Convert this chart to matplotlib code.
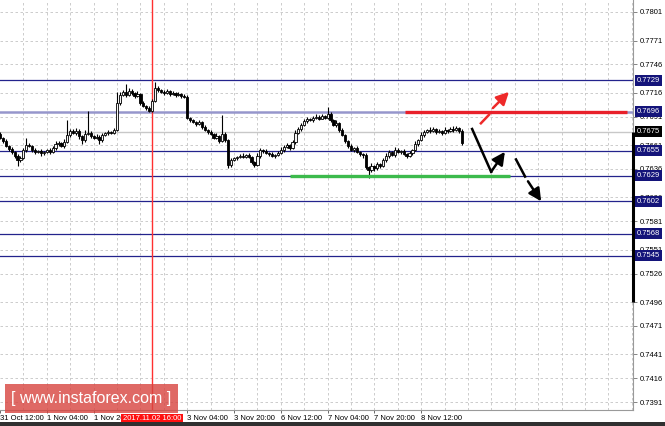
import matplotlib
matplotlib.use("Agg")
import matplotlib.pyplot as plt
import matplotlib.transforms as mtransforms
from matplotlib.patches import Rectangle

# hourly closes, 31 Oct 12:00 .. 8 Nov (one value per bar)
closes = [
    0.7669, 0.7665, 0.7660, 0.7657, 0.7654, 0.7650, 0.7645, 0.7647, 0.7656, 0.7661,
    0.7660, 0.7656, 0.7654, 0.7655, 0.7653, 0.7654, 0.7656, 0.7654, 0.7658, 0.7662,
    0.7663, 0.7660, 0.7664, 0.7672, 0.7676, 0.7674, 0.7676, 0.7671, 0.7666, 0.7673,
    0.7674, 0.7671, 0.7669, 0.7670, 0.7666, 0.7672, 0.7674, 0.7675, 0.7674, 0.7677,
    0.7705, 0.7714, 0.7717, 0.7714, 0.7718, 0.7716, 0.7713, 0.7715, 0.7705, 0.7702,
    0.7700, 0.7697, 0.7707, 0.7721, 0.7719, 0.7717, 0.7716, 0.7718, 0.7715, 0.7716,
    0.7714, 0.7715, 0.7713, 0.7712, 0.7690, 0.7687, 0.7685, 0.7683, 0.7685, 0.7680,
    0.7677, 0.7675, 0.7673, 0.7669, 0.7671, 0.7665, 0.7673, 0.7666, 0.7640, 0.7645,
    0.7647, 0.7649, 0.7650, 0.7649, 0.7651, 0.7649, 0.7643, 0.7640, 0.7650, 0.7656,
    0.7655, 0.7653, 0.7652, 0.7650, 0.7651, 0.7653, 0.7656, 0.7659, 0.7661, 0.7658,
    0.7664, 0.7674, 0.7678, 0.7682, 0.7686, 0.7689, 0.7687, 0.7690, 0.7691, 0.7689,
    0.7692, 0.7690, 0.7694, 0.7687, 0.7682, 0.7684, 0.7677, 0.7672, 0.7665, 0.7660,
    0.7656, 0.7658, 0.7654, 0.7652, 0.7651, 0.7638, 0.7635, 0.7639, 0.7637, 0.7641,
    0.7639, 0.7645, 0.7650, 0.7654, 0.7651, 0.7656, 0.7654, 0.7655, 0.7652, 0.7650,
    0.7653, 0.7656, 0.7662, 0.7666, 0.7672, 0.7675, 0.7677, 0.7676, 0.7678, 0.7675,
    0.7676, 0.7674, 0.7677, 0.7676, 0.7678, 0.7677, 0.7679, 0.7676, 0.7663,
]
first_open = 0.7673
# wick lengths in pips above / below the body
wick_up = [
    2, 1, 2, 1, 2, 1, 2, 3, 2, 8,
    2, 1, 2, 1, 2, 1, 1, 2, 2, 3,
    2, 1, 3, 15, 2, 2, 3, 2, 1, 4,
    23, 2, 1, 3, 2, 2, 1, 2, 1, 2,
    12, 3, 2, 8, 3, 2, 1, 3, 1, 2,
    1, 2, 3, 6, 2, 1, 2, 2, 1, 2,
    1, 2, 1, 2, 2, 1, 2, 1, 2, 1,
    2, 1, 2, 1, 3, 1, 20, 2, 1, 3,
    2, 1, 2, 3, 1, 2, 1, 1, 3, 2,
    1, 2, 1, 2, 1, 2, 3, 2, 2, 1,
    2, 3, 2, 2, 3, 2, 1, 2, 3, 2,
    2, 1, 7, 2, 1, 3, 1, 2, 1, 1,
    2, 1, 2, 1, 1, 2, 1, 3, 1, 2,
    1, 2, 3, 2, 1, 3, 2, 1, 2, 1,
    2, 1, 3, 2, 3, 2, 1, 3, 2, 1,
    2, 1, 3, 1, 2, 3, 2, 1, 2,
]
wick_dn = [
    2, 2, 1, 2, 2, 3, 6, 2, 1, 2,
    1, 2, 2, 1, 3, 2, 1, 2, 1, 2,
    2, 1, 2, 1, 2, 1, 2, 3, 4, 2,
    1, 2, 2, 1, 4, 2, 1, 2, 1, 1,
    1, 2, 1, 2, 1, 2, 2, 1, 2, 1,
    2, 1, 1, 1, 2, 1, 2, 1, 2, 1,
    2, 1, 2, 1, 2, 2, 1, 2, 1, 2,
    1, 2, 1, 2, 1, 2, 1, 2, 3, 2,
    1, 2, 1, 2, 1, 2, 2, 2, 1, 2,
    2, 1, 2, 1, 2, 1, 1, 2, 1, 2,
    1, 2, 1, 2, 1, 2, 1, 2, 1, 2,
    1, 2, 1, 2, 1, 2, 2, 1, 2, 2,
    1, 2, 1, 2, 3, 2, 9, 2, 3, 2,
    2, 1, 2, 2, 1, 2, 1, 2, 1, 2,
    1, 2, 1, 2, 1, 2, 1, 2, 1, 2,
    1, 2, 1, 2, 1, 2, 1, 2, 2,
]

price_ticks = [0.7801, 0.7771, 0.7746, 0.7716, 0.7691, 0.7661, 0.7636, 0.7606,
               0.7581, 0.7551, 0.7526, 0.7496, 0.7471, 0.7441, 0.7416, 0.7391]
time_tick_bars = [0, 16, 32, 64, 80, 96, 112, 128, 144]
time_tick_labels = ["31 Oct 12:00", "1 Nov 04:00", "1 Nov 20:00",
                    "3 Nov 04:00", "3 Nov 20:00", "6 Nov 12:00", "7 Nov 04:00",
                    "7 Nov 20:00", "8 Nov 12:00"]
navy_levels = [0.7729, 0.7655, 0.7629, 0.7602, 0.7568, 0.7545]
soft_level = 0.7696
bid_level = 0.7675
resist_level = 0.7696
support_level = 0.7629
marker_bar = 52
marker_label = "2017.11.02 16:00"

NAVY = "#23238c"
FONT = "Liberation Sans"

fig = plt.figure(figsize=(6.65, 4.26), dpi=100)
ax = fig.add_axes([0, 16 / 426, 633 / 665, 410 / 426])
ax.set_xlim(0, 216.4)
ax.set_ylim(0.73826, 0.78136)

# grid
for p in price_ticks:
    ax.axhline(p, color="#c4c4c4", lw=0.6, ls=(0, (3, 3)), zorder=0)
for b in range(8, 217, 8):
    ax.axvline(b, color="#c4c4c4", lw=0.6, ls=(0, (3, 3)), zorder=0)

# levels
for lv in navy_levels:
    ax.axhline(lv, color=NAVY, lw=0.9, zorder=1)
ax.axhline(soft_level, color="#9696cc", lw=1.8, zorder=1)
ax.axhline(bid_level, color="#c8c8c8", lw=1.0, zorder=1)
ax.axvline(marker_bar, color="#ff3030", lw=1.0, zorder=1)
ax.plot([138.5, 214.4], [resist_level, resist_level], color="#e8202a", lw=2.4, zorder=4,
        solid_capstyle="butt")
ax.plot([99.1, 174.4], [support_level, support_level], color="#3cba4c", lw=2.4, zorder=4,
        solid_capstyle="butt")

# candles
opens = [first_open] + closes[:-1]
for i, (o, c) in enumerate(zip(opens, closes)):
    hi = max(o, c) + wick_up[i] * 0.0001
    lo = min(o, c) - wick_dn[i] * 0.0001
    ax.vlines(i, lo, hi, color="black", lw=0.8, zorder=2)
    ax.bar(i, c - o, bottom=o, width=0.75, color="#f4f4f4" if c >= o else "black",
           edgecolor="black", linewidth=0.6, zorder=3)

# forecast arrows
def arrow(p0, p1, color):
    ax.annotate("", xy=p1, xytext=p0, zorder=5,
                arrowprops=dict(arrowstyle="-|>,head_length=0.75,head_width=0.38",
                                color=color, lw=1.8, mutation_scale=10, shrinkA=0, shrinkB=0))

ax.plot([164.4, 167.2], [0.7684, 0.7693], color="#ee2a2a", lw=1.8, zorder=5)
arrow((168.5, 0.7700), (174.0, 0.7717), "#ee2a2a")
ax.plot([161.4, 167.9], [0.7678, 0.7633], color="black", lw=1.8, zorder=5)
arrow((167.9, 0.7633), (172.6, 0.7654), "black")
ax.plot([176.4, 179.5], [0.7646, 0.7628], color="black", lw=1.8, zorder=5)
arrow((180.5, 0.7623), (185.0, 0.7602), "black")

# axes styling
for s in ["left", "top"]:
    ax.spines[s].set_visible(False)
for s in ["right", "bottom"]:
    ax.spines[s].set_color("#9a9a9a")
    ax.spines[s].set_linewidth(0.8)
ax.yaxis.tick_right()
ax.set_yticks(price_ticks)
ax.set_yticklabels([f"{p:.4f}" for p in price_ticks], fontfamily=FONT, fontsize=5.5)
ax.tick_params(axis="y", length=3, pad=2, color="#707070", width=0.6)
ax.set_xticks(time_tick_bars)
ax.set_xticklabels(time_tick_labels, ha="left", fontfamily=FONT, fontsize=5.5)
ax.tick_params(axis="x", length=2, pad=1.5, color="#505050", width=0.6)

# black segment on the price scale
ax.plot([1.0, 1.0], [bid_level, 0.7496], color="black", lw=2.2,
        transform=mtransforms.blended_transform_factory(ax.transAxes, ax.transData),
        clip_on=False, zorder=6, solid_capstyle="butt")

# price labels in boxes
ytr = mtransforms.blended_transform_factory(ax.transAxes, ax.transData)
for lv in [0.7729, 0.7696] + navy_levels[1:]:
    ax.text(1.006, lv, f"{lv:.4f}", transform=ytr, ha="left", va="center", color="white",
            fontfamily=FONT, fontsize=5.5, clip_on=False, zorder=7,
            bbox=dict(boxstyle="square,pad=0.25", fc="#14147a", ec="none"))
ax.text(1.006, bid_level, f"{bid_level:.4f}", transform=ytr, ha="left", va="center",
        color="white", fontfamily=FONT, fontsize=5.5, clip_on=False, zorder=7,
        bbox=dict(boxstyle="square,pad=0.25", fc="black", ec="none"))

# red date label on the time scale
xtr = mtransforms.blended_transform_factory(ax.transData, ax.transAxes)
ax.text(marker_bar, -0.013, marker_label, transform=xtr, ha="center", va="top",
        color="white", fontfamily=FONT, fontsize=5.5, clip_on=False, zorder=7,
        bbox=dict(boxstyle="square,pad=0.2", fc="#ff1010", ec="none"))

# watermark
fig.patches.append(Rectangle((5 / 665, 1 - 413 / 426), 173 / 665, 29 / 426,
                             transform=fig.transFigure, fc="#d8443f", ec="none",
                             alpha=0.8, zorder=10))
fig.text(91.5 / 665, 1 - 398 / 426, "[ www.instaforex.com ]", ha="center", va="center",
         color="white", fontfamily=FONT, fontsize=11.5, zorder=11)

# bottom strip
fig.patches.append(Rectangle((0, 0), 1, 4 / 426, transform=fig.transFigure,
                             fc="#303030", ec="none"))

fig.savefig("out.png", dpi=100)
